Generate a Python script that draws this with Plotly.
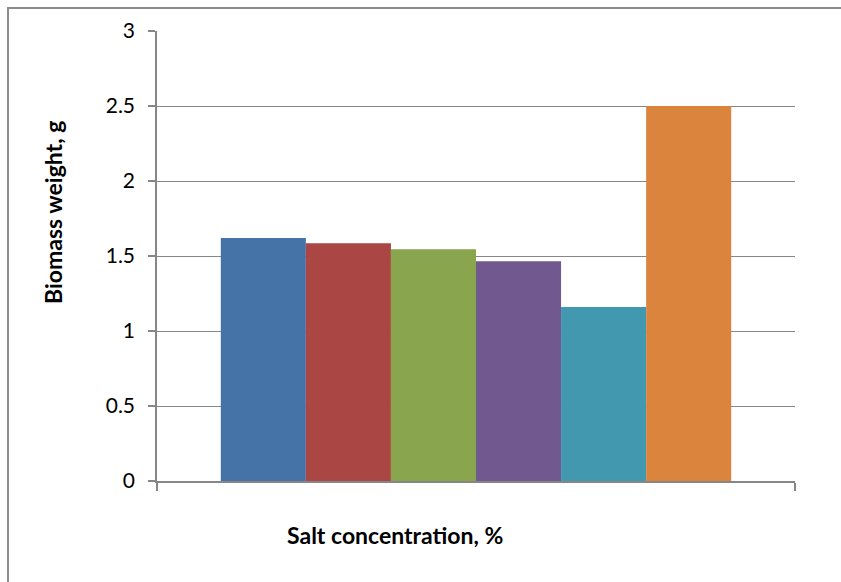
import plotly.graph_objects as go

# Biomass weight (g) for each salt-concentration series
series_names = ["Series 1", "Series 2", "Series 3", "Series 4", "Series 5", "Series 6"]
biomass = [1.62, 1.585, 1.545, 1.465, 1.16, 2.5]
colors = ["#4572A7", "#AA4643", "#89A54E", "#71588F", "#4198AF", "#DB843D"]
y_ticks = [0, 0.5, 1, 1.5, 2, 2.5, 3]
y_tick_text = ["0", "0.5", "1", "1.5", "2", "2.5", "3"]

GREY = "#868686"
FONT = "Lato, Carlito, Calibri, sans-serif"

fig = go.Figure()
for name, val, col in zip(series_names, biomass, colors):
    fig.add_trace(go.Bar(x=[0], y=[val], name=name, marker=dict(color=col, line=dict(width=0))))

W, H = 841, 582
L, R, T, B = 157, 46, 31, 101
pw, ph = W - L - R, H - T - B

fig.update_layout(
    width=W, height=H,
    margin=dict(l=L, r=R, t=T, b=B),
    paper_bgcolor="white", plot_bgcolor="white",
    barmode="group", bargap=0.2, bargroupgap=0,
    showlegend=False,
    font=dict(family=FONT, color="black"),
    xaxis=dict(
        range=[-0.5, 0.5], tickmode="array", tickvals=[-0.5, 0.5], ticktext=["", ""],
        ticks="outside", ticklen=8, tickcolor=GREY, tickwidth=1.5,
        showline=True, linecolor=GREY, linewidth=1.5,
        showgrid=False, zeroline=False, fixedrange=True,
    ),
    yaxis=dict(
        range=[0, 3], tickmode="array", tickvals=y_ticks, ticktext=y_tick_text,
        ticks="outside", ticklen=7, tickcolor=GREY, tickwidth=1.5,
        showline=True, linecolor=GREY, linewidth=1.5,
        showgrid=True, gridcolor=GREY, gridwidth=1.2, zeroline=False,
        tickfont=dict(size=21, family=FONT, color="black"),
        ticklabelstandoff=9,
    ),
    shapes=[
        # outer chart frame
        dict(type="rect", xref="paper", yref="paper",
             x0=(8 - L) / pw, x1=(W + 20 - L) / pw,
             y0=(H - B - (H + 20)) / ph, y1=(H - B - 8) / ph,
             line=dict(color="#8c8c8c", width=2), fillcolor="rgba(0,0,0,0)", layer="below"),
    ],
    annotations=[
        dict(text="<b>Biomass weight, g</b>", textangle=-90, xref="paper", yref="paper",
             x=(53 - L) / pw, y=(H - B - 213) / ph, xanchor="center", yanchor="middle",
             showarrow=False, font=dict(size=23, family=FONT, color="black")),
        dict(text="<b>Salt concentration, %</b>", xref="paper", yref="paper",
             x=(395 - L) / pw, y=(H - B - 535) / ph, xanchor="center", yanchor="middle",
             showarrow=False, font=dict(size=23, family=FONT, color="black")),
    ],
)

fig.write_html("out.html")
